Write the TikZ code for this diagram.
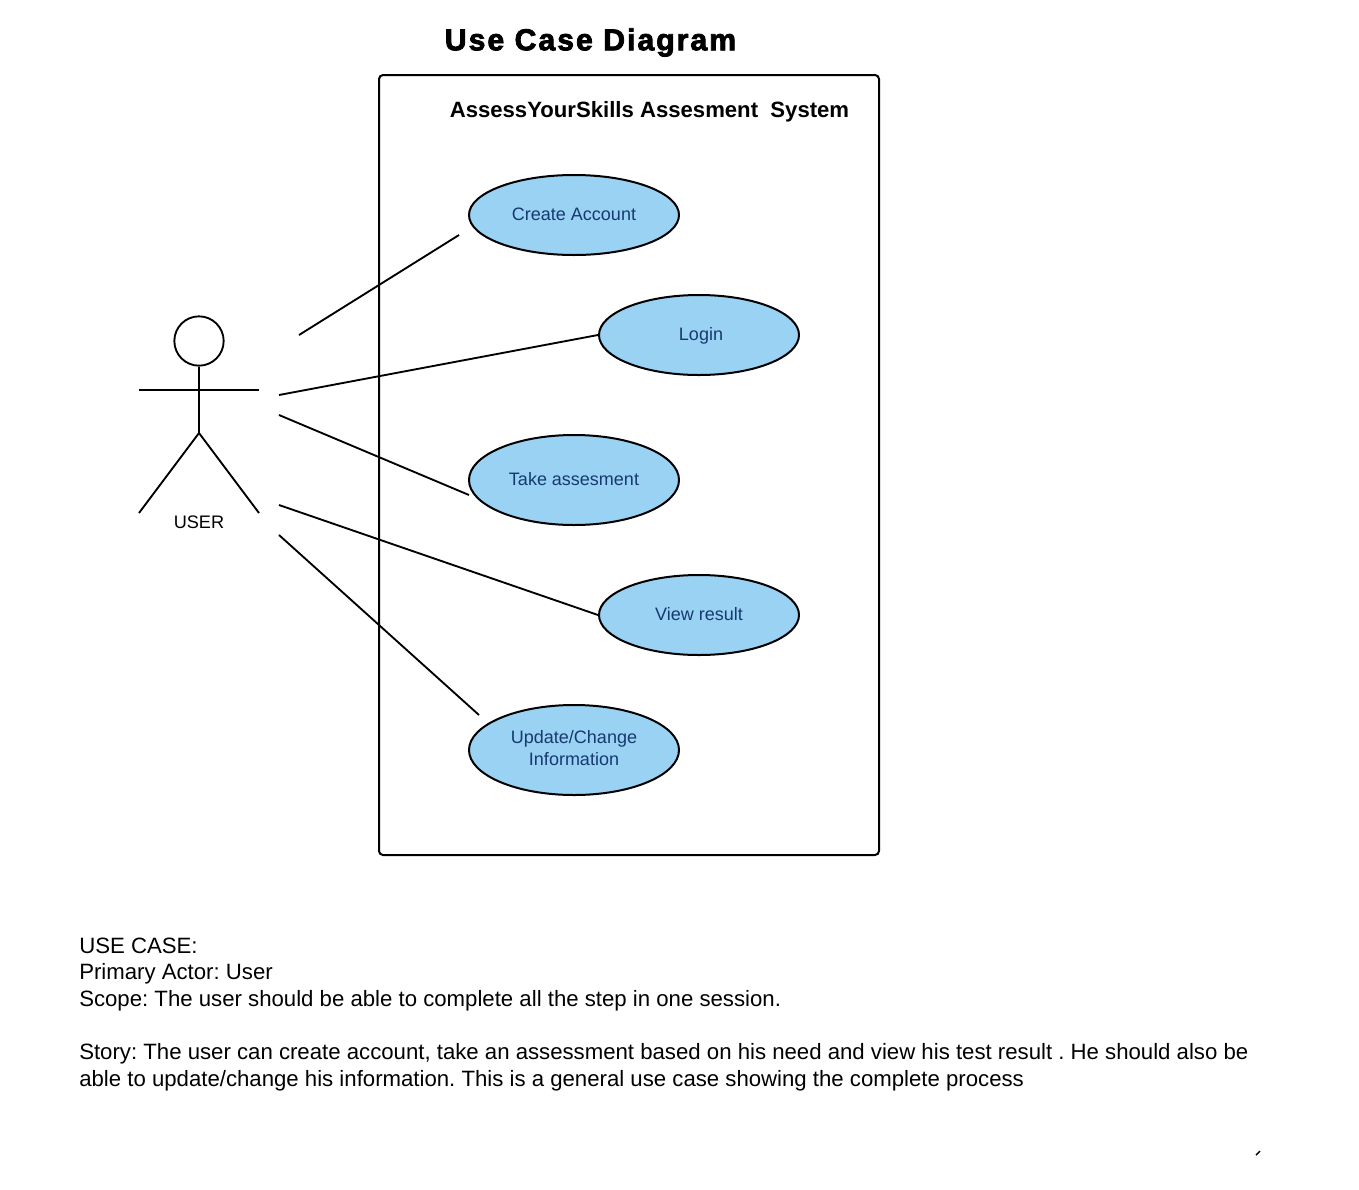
\documentclass[tikz,border=0pt]{standalone}
\usepackage{fontspec}
\setmainfont{Liberation Sans}
\newfontfamily\titlefont[FakeBold=2.6,LetterSpace=6.5]{Liberation Sans Bold}
\usetikzlibrary{shapes.geometric}
\definecolor{ucblue}{HTML}{9AD2F4}
\definecolor{uctext}{HTML}{17396F}
\tikzset{
  px/.style={x=0.75pt,y=-0.75pt},
  usecase/.style={ellipse,draw=black,line width=1.5pt,fill=ucblue,inner sep=0pt},
  uclabel/.style={text=uctext,inner sep=0pt,font=\fontsize{13.5pt}{16.5pt}\selectfont,align=center},
  conn/.style={line width=1.4pt,draw=black},
  body/.style={anchor=north west,inner sep=0pt,align=left,font=\fontsize{16.64pt}{20pt}\selectfont}
}
\begin{document}
\begin{tikzpicture}[px]
\frenchspacing
\useasboundingbox (0,0) rectangle (1359,1189);
\fill[white] (0,0) rectangle (1359,1189);
\node[font=\titlefont\fontsize{22.7pt}{24pt}\selectfont] (title) at (590.5,42.5) {Use Case Diagram};
\draw[line width=1.5pt,rounded corners=3pt] (379,75) rectangle (879,855);
\node[font=\bfseries\fontsize{16.6pt}{20pt}\selectfont] (sys) at (649.5,111.5) {AssessYourSkills Assesment\ \ System};
\node[usecase,minimum width=157.5pt,minimum height=60pt] (a) at (574,215) {};
\node[usecase,minimum width=150pt,minimum height=60pt] (b) at (699,335) {};
\node[usecase,minimum width=157.5pt,minimum height=67.5pt] (c) at (574,480) {};
\node[usecase,minimum width=150pt,minimum height=60pt] (d) at (699,615) {};
\node[usecase,minimum width=157.5pt,minimum height=67.5pt] (e) at (574,750) {};
\node[uclabel] (al) at (574,214.5) {Create Account};
\node[uclabel] (bl) at (701,335.5) {Login};
\node[uclabel] (cl) at (574,479.5) {Take assesment};
\node[uclabel] (dl) at (699,614.5) {View result};
\node[uclabel] (el) at (574,748) {Update/Change\\Information};
\node[circle,draw,line width=1.4pt,minimum size=37pt,inner sep=0pt] (head) at (199,341) {};
\coordinate (hip) at (199,433);
\coordinate (armL) at (139,390);
\coordinate (armR) at (259,390);
\coordinate (legL) at (139,513);
\coordinate (legR) at (259,513);
\draw[conn] (head.south) -- (hip);
\draw[conn] (armL) -- (armR);
\draw[conn] (legL) -- (hip) -- (legR);
\node[font=\fontsize{13.6pt}{16pt}\selectfont] (user) at (199,522) {USER};
\coordinate (u1) at (299,335);
\coordinate (u2) at (279,395);
\coordinate (u3) at (279,415);
\coordinate (u4) at (279,505);
\coordinate (u5) at (279,535);
\coordinate (v1) at (459,235);
\coordinate (v3) at (469,495);
\coordinate (v5) at (479,715);
\draw[conn] (u1) -- (v1);
\draw[conn] (u2) -- (b.west);
\draw[conn] (u3) -- (v3);
\draw[conn] (u4) -- (d.west);
\draw[conn] (u5) -- (v5);
\node[body] (text) at (79,937.5) {USE CASE:\\Primary Actor: User\\Scope: The user should be able to complete all the step in one session.\\[20pt]Story: The user can create account, take an assessment based on his need and view his test result . He should also be\\able to update/change his information. This is a general use case showing the complete process};
\coordinate (m1) at (1256,1155);
\coordinate (m2) at (1260,1151);
\draw[line width=1.1pt] (m1) -- (m2);
\end{tikzpicture}
\end{document}
